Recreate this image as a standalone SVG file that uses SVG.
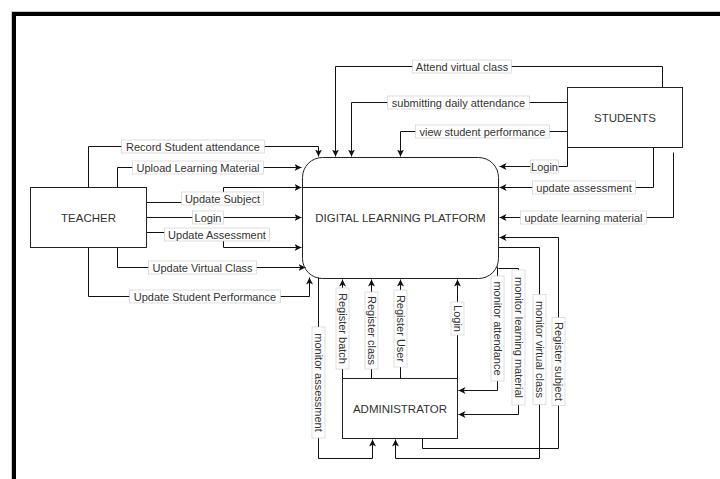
<svg xmlns="http://www.w3.org/2000/svg" width="720" height="479" viewBox="0 0 720 479">
  <defs>
    <marker id="arrow" markerUnits="userSpaceOnUse" markerWidth="9" markerHeight="9" refX="7" refY="3.5" orient="auto">
      <path d="M0,0 L7,3.5 L0,7 L1.8,3.5 Z" fill="#111"/>
    </marker>
    <style>
      .node { fill: #fff; stroke: #222; stroke-width: 1; }
      .ntext { font-family: "Liberation Sans", Arial, sans-serif; font-size: 11.5px; fill: #333; text-anchor: middle; }
      .edge { fill: none; stroke: #111; stroke-width: 1; marker-end: url(#arrow); }
      .plain { fill: none; stroke: #111; stroke-width: 1; }
      .lbox { fill: #fff; stroke: #c8c8c8; stroke-width: 0.6; }
      .ltext { font-family: "Liberation Sans", Arial, sans-serif; font-size: 11px; fill: #333; text-anchor: middle; }
    </style>
  </defs>

  <rect width="720" height="479" fill="#fff"/>

  <!-- page frame -->
  <path d="M11.5,479 V11.5 H720" fill="none" stroke="#c8c8c8" stroke-width="1"/>
  <path d="M14,479 V14 H720" fill="none" stroke="#000" stroke-width="4"/>

  <g transform="translate(0.5,0.5)">
    <!-- connectors -->
    <g id="connectors">
      <!-- teacher -> platform -->
      <path class="edge" d="M88,187 V146 H318 V156"/>
      <path class="edge" d="M117,187 V167 H301"/>
      <path class="edge" d="M146,202 H223 V187 H301"/>
      <path class="edge" d="M146,217 H301"/>
      <path class="edge" d="M146,232 H223 V247 H301"/>
      <path class="edge" d="M117,247 V267 H305"/>
      <path class="edge" d="M88,247 V296 H309 V277"/>
      <path class="plain" d="M302,187 H498"/>

      <!-- students -> platform -->
      <path class="edge" d="M662,87 V66 H335 V156"/>
      <path class="edge" d="M567,102 H351 V156"/>
      <path class="edge" d="M567,131 H400 V156"/>
      <path class="edge" d="M567,147 V166 H499"/>
      <path class="edge" d="M653,147 V187 H499"/>
      <path class="edge" d="M673,152 V217 H499"/>

      <!-- administrator <-> platform -->
      <path class="edge" d="M342,378 V279"/>
      <path class="edge" d="M371,378 V279"/>
      <path class="edge" d="M400,378 V279"/>
      <path class="edge" d="M457,378 V279"/>
      <path class="edge" d="M318,277 V458 H372 V439"/>
      <path class="edge" d="M497,266 V390 H458"/>
      <path class="edge" d="M498,268 H518 V414 H458"/>
      <path class="edge" d="M498,247 H539 V458 H395 V439"/>
      <path class="edge" d="M422,438 V448 H558 V237 H499"/>

      <!-- horizontal labels -->
      <g><rect class="lbox" x="121" y="139.5" width="143" height="13"/><text class="ltext" x="192.5" y="150">Record Student attendance</text></g>
      <g><rect class="lbox" x="132" y="160.5" width="131" height="13"/><text class="ltext" x="197.5" y="171">Upload Learning Material</text></g>
      <g><rect class="lbox" x="181" y="191.5" width="82" height="13"/><text class="ltext" x="222" y="202">Update Subject</text></g>
      <g><rect class="lbox" x="192" y="210.5" width="31" height="13"/><text class="ltext" x="207.5" y="221">Login</text></g>
      <g><rect class="lbox" x="164" y="227.5" width="105" height="13"/><text class="ltext" x="216.5" y="238">Update Assessment</text></g>
      <g><rect class="lbox" x="148" y="260.5" width="108" height="13"/><text class="ltext" x="202" y="271">Update Virtual Class</text></g>
      <g><rect class="lbox" x="129" y="289.5" width="151" height="13"/><text class="ltext" x="204.5" y="300">Update Student Performance</text></g>

      <g><rect class="lbox" x="412" y="59.5" width="99" height="13"/><text class="ltext" x="461.5" y="70">Attend virtual class</text></g>
      <g><rect class="lbox" x="387" y="95.5" width="142" height="13"/><text class="ltext" x="458" y="106">submitting daily attendance</text></g>
      <g><rect class="lbox" x="415" y="124.5" width="134" height="13"/><text class="ltext" x="482" y="135">view student performance</text></g>
      <g><rect class="lbox" x="530" y="159.5" width="28" height="13"/><text class="ltext" x="544" y="170">Login</text></g>
      <g><rect class="lbox" x="532" y="180.5" width="103" height="13"/><text class="ltext" x="583.5" y="191">update assessment</text></g>
      <g><rect class="lbox" x="520" y="210.5" width="126" height="13"/><text class="ltext" x="583" y="221">update learning material</text></g>

      <!-- vertical labels -->
      <g transform="translate(342,328) rotate(90)"><rect class="lbox" x="-40.5" y="-6.5" width="81" height="13"/><text class="ltext" x="0" y="4">Register batch</text></g>
      <g transform="translate(371,330) rotate(90)"><rect class="lbox" x="-38.5" y="-6.5" width="77" height="13"/><text class="ltext" x="0" y="4">Register class</text></g>
      <g transform="translate(400,328) rotate(90)"><rect class="lbox" x="-38.5" y="-6.5" width="77" height="13"/><text class="ltext" x="0" y="4">Register User</text></g>
      <g transform="translate(457,318) rotate(90)"><rect class="lbox" x="-16.5" y="-6.5" width="33" height="13"/><text class="ltext" x="0" y="4">Login</text></g>
      <g transform="translate(318,382) rotate(90)"><rect class="lbox" x="-55.5" y="-6.5" width="111" height="13"/><text class="ltext" x="0" y="4">monitor assessment</text></g>
      <g transform="translate(497,328) rotate(90)"><rect class="lbox" x="-52.5" y="-6.5" width="105" height="13"/><text class="ltext" x="0" y="4">monitor attendance</text></g>
      <g transform="translate(518,337) rotate(90)"><rect class="lbox" x="-67.5" y="-6.5" width="135" height="13"/><text class="ltext" x="0" y="4">monitor learning material</text></g>
      <g transform="translate(539,349) rotate(90)"><rect class="lbox" x="-55" y="-6.5" width="110" height="13"/><text class="ltext" x="0" y="4">monitor virtual class</text></g>
      <g transform="translate(558,361) rotate(90)"><rect class="lbox" x="-44" y="-6.5" width="88" height="13"/><text class="ltext" x="0" y="4">Register subject</text></g>
    </g>

    <!-- nodes -->
    <g id="platform">
      <rect class="node" x="302" y="157" width="196" height="121" rx="20" ry="20" fill="none" style="fill:none"/>
      <text class="ntext" x="400" y="221">DIGITAL LEARNING PLATFORM</text>
    </g>
    <g id="teacher">
      <rect class="node" x="30" y="187" width="116" height="60"/>
      <text class="ntext" x="88" y="221">TEACHER</text>
    </g>
    <g id="students">
      <rect class="node" x="567" y="87" width="115" height="60"/>
      <text class="ntext" x="624.5" y="121">STUDENTS</text>
    </g>
    <g id="administrator">
      <rect class="node" x="342" y="378" width="115" height="60"/>
      <text class="ntext" x="399.5" y="412">ADMINISTRATOR</text>
    </g>
  </g>
</svg>
